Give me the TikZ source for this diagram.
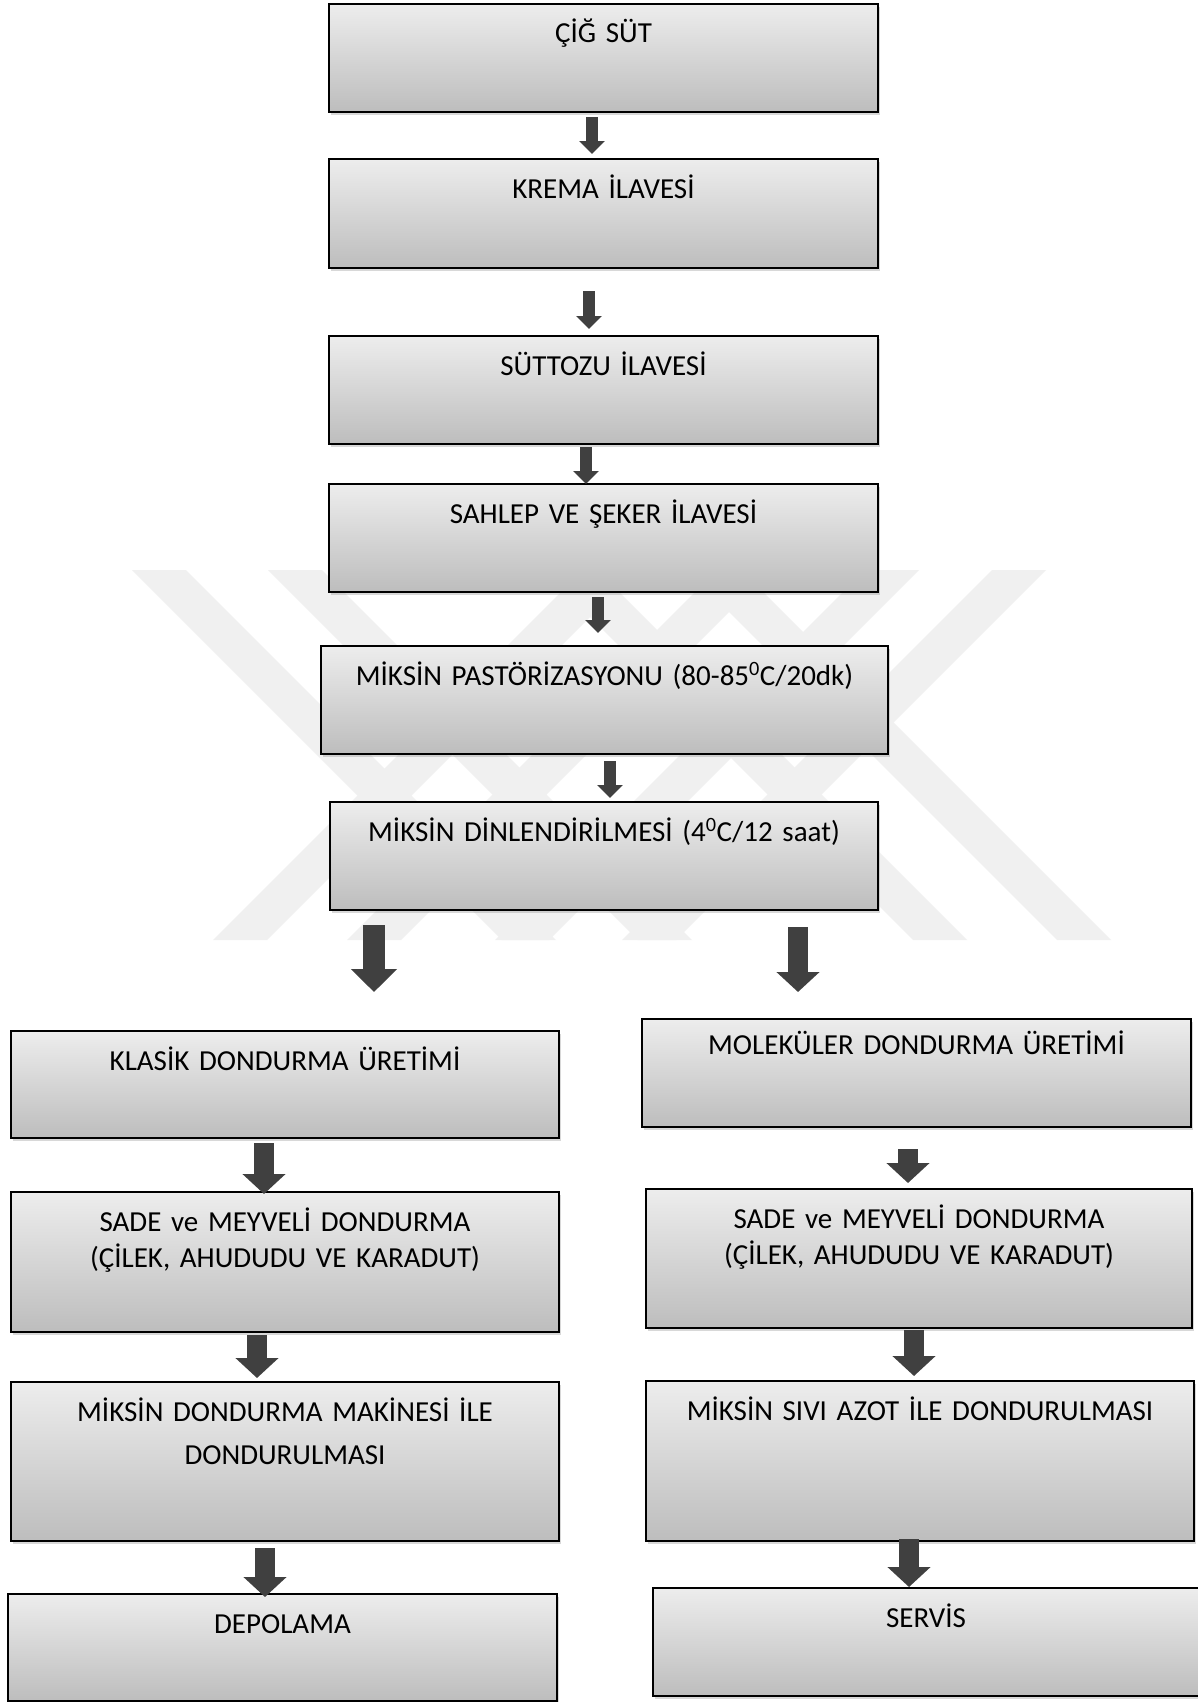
\documentclass[tikz,border=0pt]{standalone}
\usepackage{fontspec}
\setmainfont{Carlito}
\usepackage{tikz}
\usetikzlibrary{arrows.meta,shadows}
\usepackage{xcolor}
\definecolor{kutuust}{HTML}{EDEDED}
\definecolor{kutualt}{HTML}{BDBDBD}
\definecolor{okgri}{HTML}{404040}
\definecolor{filigran}{HTML}{F0F0F0}

\begin{document}
\begin{tikzpicture}[x=1pt, y=-1pt,
    adim/.style={draw=black, line width=1.8pt, top color=kutuust, bottom color=kutualt,
        drop shadow={shadow xshift=2pt, shadow yshift=-3pt, opacity=0.3},
        anchor=north, inner xsep=0pt, inner ysep=0pt, outer sep=0pt,
        text height=39pt, align=center, font=\fontsize{29}{36}\selectfont},
    ok/.style={draw=okgri, line width=12pt, -{Triangle[width=25pt,length=13pt]}},
    ortaok/.style={draw=okgri, line width=20pt, -{Triangle[width=42pt,length=20pt]}},
    buyukok/.style={draw=okgri, line width=22pt, -{Triangle[width=45pt,length=23pt]}}]

    % Sayfa
    \fill[white] (0,0) rectangle (1198,1702);
    \useasboundingbox (0,0) rectangle (1198,1702);

    % Filigran
    \foreach \x in {132,268,543,687}
        \fill[filigran] (\x,570) -- ++(54,0) -- ++(370,370) -- ++(-54,0) -- cycle;
    \foreach \x in {583,717,865,992}
        \fill[filigran] (\x,570) -- ++(54,0) -- ++(-370,370) -- ++(-54,0) -- cycle;

    % Ortak adimlar
    \node[adim, text width=549pt, text depth=69pt] (cig) at (603.5,4) {ÇİĞ SÜT};
    \node[adim, text width=549pt, text depth=70pt] (krema) at (603.5,159) {KREMA İLAVESİ};
    \node[adim, text width=549pt, text depth=69pt] (suttozu) at (603.5,336) {SÜTTOZU İLAVESİ};
    \node[adim, text width=549pt, text depth=69pt] (sahlep) at (603.5,484) {SAHLEP VE ŞEKER İLAVESİ};
    \node[adim, text width=567pt, text depth=69pt] (pastor) at (604.5,646) {MİKSİN PASTÖRİZASYONU (80-85\textsuperscript{0}C/20dk)};
    \node[adim, text width=548pt, text depth=69pt] (dinlen) at (604,802) {MİKSİN DİNLENDİRİLMESİ (4\textsuperscript{0}C/12 saat)};

    % Klasik kol
    \node[adim, text width=548pt, text depth=68pt] (klasik) at (285,1031) {KLASİK DONDURMA ÜRETİMİ};
    \node[adim, text width=548pt, text depth=101pt] (sadeK) at (285,1192) {SADE ve MEYVELİ DONDURMA\\(ÇİLEK, AHUDUDU VE KARADUT)};
    \node[adim, text width=548pt, text depth=120pt] (makine) at (285,1382) {MİKSİN DONDURMA MAKİNESİ İLE\\[7pt]DONDURULMASI};
    \node[adim, text width=549pt, text depth=68pt] (depolama) at (282.5,1594) {DEPOLAMA};

    % Molekuler kol
    \node[adim, text width=549pt, text height=35pt, text depth=73pt] (molekuler) at (916.5,1019) {MOLEKÜLER DONDURMA ÜRETİMİ};
    \node[adim, text width=546pt, text depth=100pt] (sadeM) at (919,1189) {SADE ve MEYVELİ DONDURMA\\(ÇİLEK, AHUDUDU VE KARADUT)};
    \node[adim, text width=548pt, text depth=121pt] (azot) at (920,1381) {MİKSİN SIVI AZOT İLE DONDURULMASI};
    \node[adim, text width=546pt, text depth=69pt] (servis) at (926,1588) {SERVİS};

    % Oklar
    \draw[ok] ([xshift=-11.5pt,yshift=-5pt]cig.south) -- ([xshift=-11.5pt,yshift=5pt]krema.north);
    \draw[ok] ([xshift=-14.5pt,yshift=-23pt]krema.south) -- ([xshift=-14.5pt,yshift=7pt]suttozu.north);
    \draw[ok] ([xshift=-17.5pt,yshift=-3pt]suttozu.south) -- ([xshift=-17.5pt]sahlep.north);
    \draw[ok] ([xshift=-5.5pt,yshift=-5pt]sahlep.south) -- ([xshift=-6.5pt,yshift=13pt]pastor.north);
    \draw[ok] ([xshift=5.5pt,yshift=-7pt]pastor.south) -- ([xshift=6pt,yshift=4pt]dinlen.north);
    \draw[buyukok] ([xshift=-230pt,yshift=-15pt]dinlen.south) -- ([xshift=89pt,yshift=39pt]klasik.north);
    \draw[ortaok] ([xshift=194pt,yshift=-17pt]dinlen.south) -- ([xshift=-118.5pt,yshift=27pt]molekuler.north);
    \draw[ortaok] ([xshift=-21pt,yshift=-5pt]klasik.south) -- ([xshift=-21pt,yshift=-2pt]sadeK.north);
    \draw[ortaok] ([xshift=-8.5pt,yshift=-22pt]molekuler.south) -- ([xshift=-11pt,yshift=6pt]sadeM.north);
    \draw[ortaok] ([xshift=-28pt,yshift=-3pt]sadeK.south) -- ([xshift=-28pt,yshift=4pt]makine.north);
    \draw[ortaok] ([xshift=-5pt,yshift=-2pt]sadeM.south) -- ([xshift=-6pt,yshift=5pt]azot.north);
    \draw[ortaok] ([xshift=-20pt,yshift=-7pt]makine.south) -- ([xshift=-17.5pt,yshift=-3pt]depolama.north);
    \draw[ortaok] ([xshift=-11pt,yshift=2pt]azot.south) -- ([xshift=-17pt,yshift=1pt]servis.north);
\end{tikzpicture}
\end{document}
